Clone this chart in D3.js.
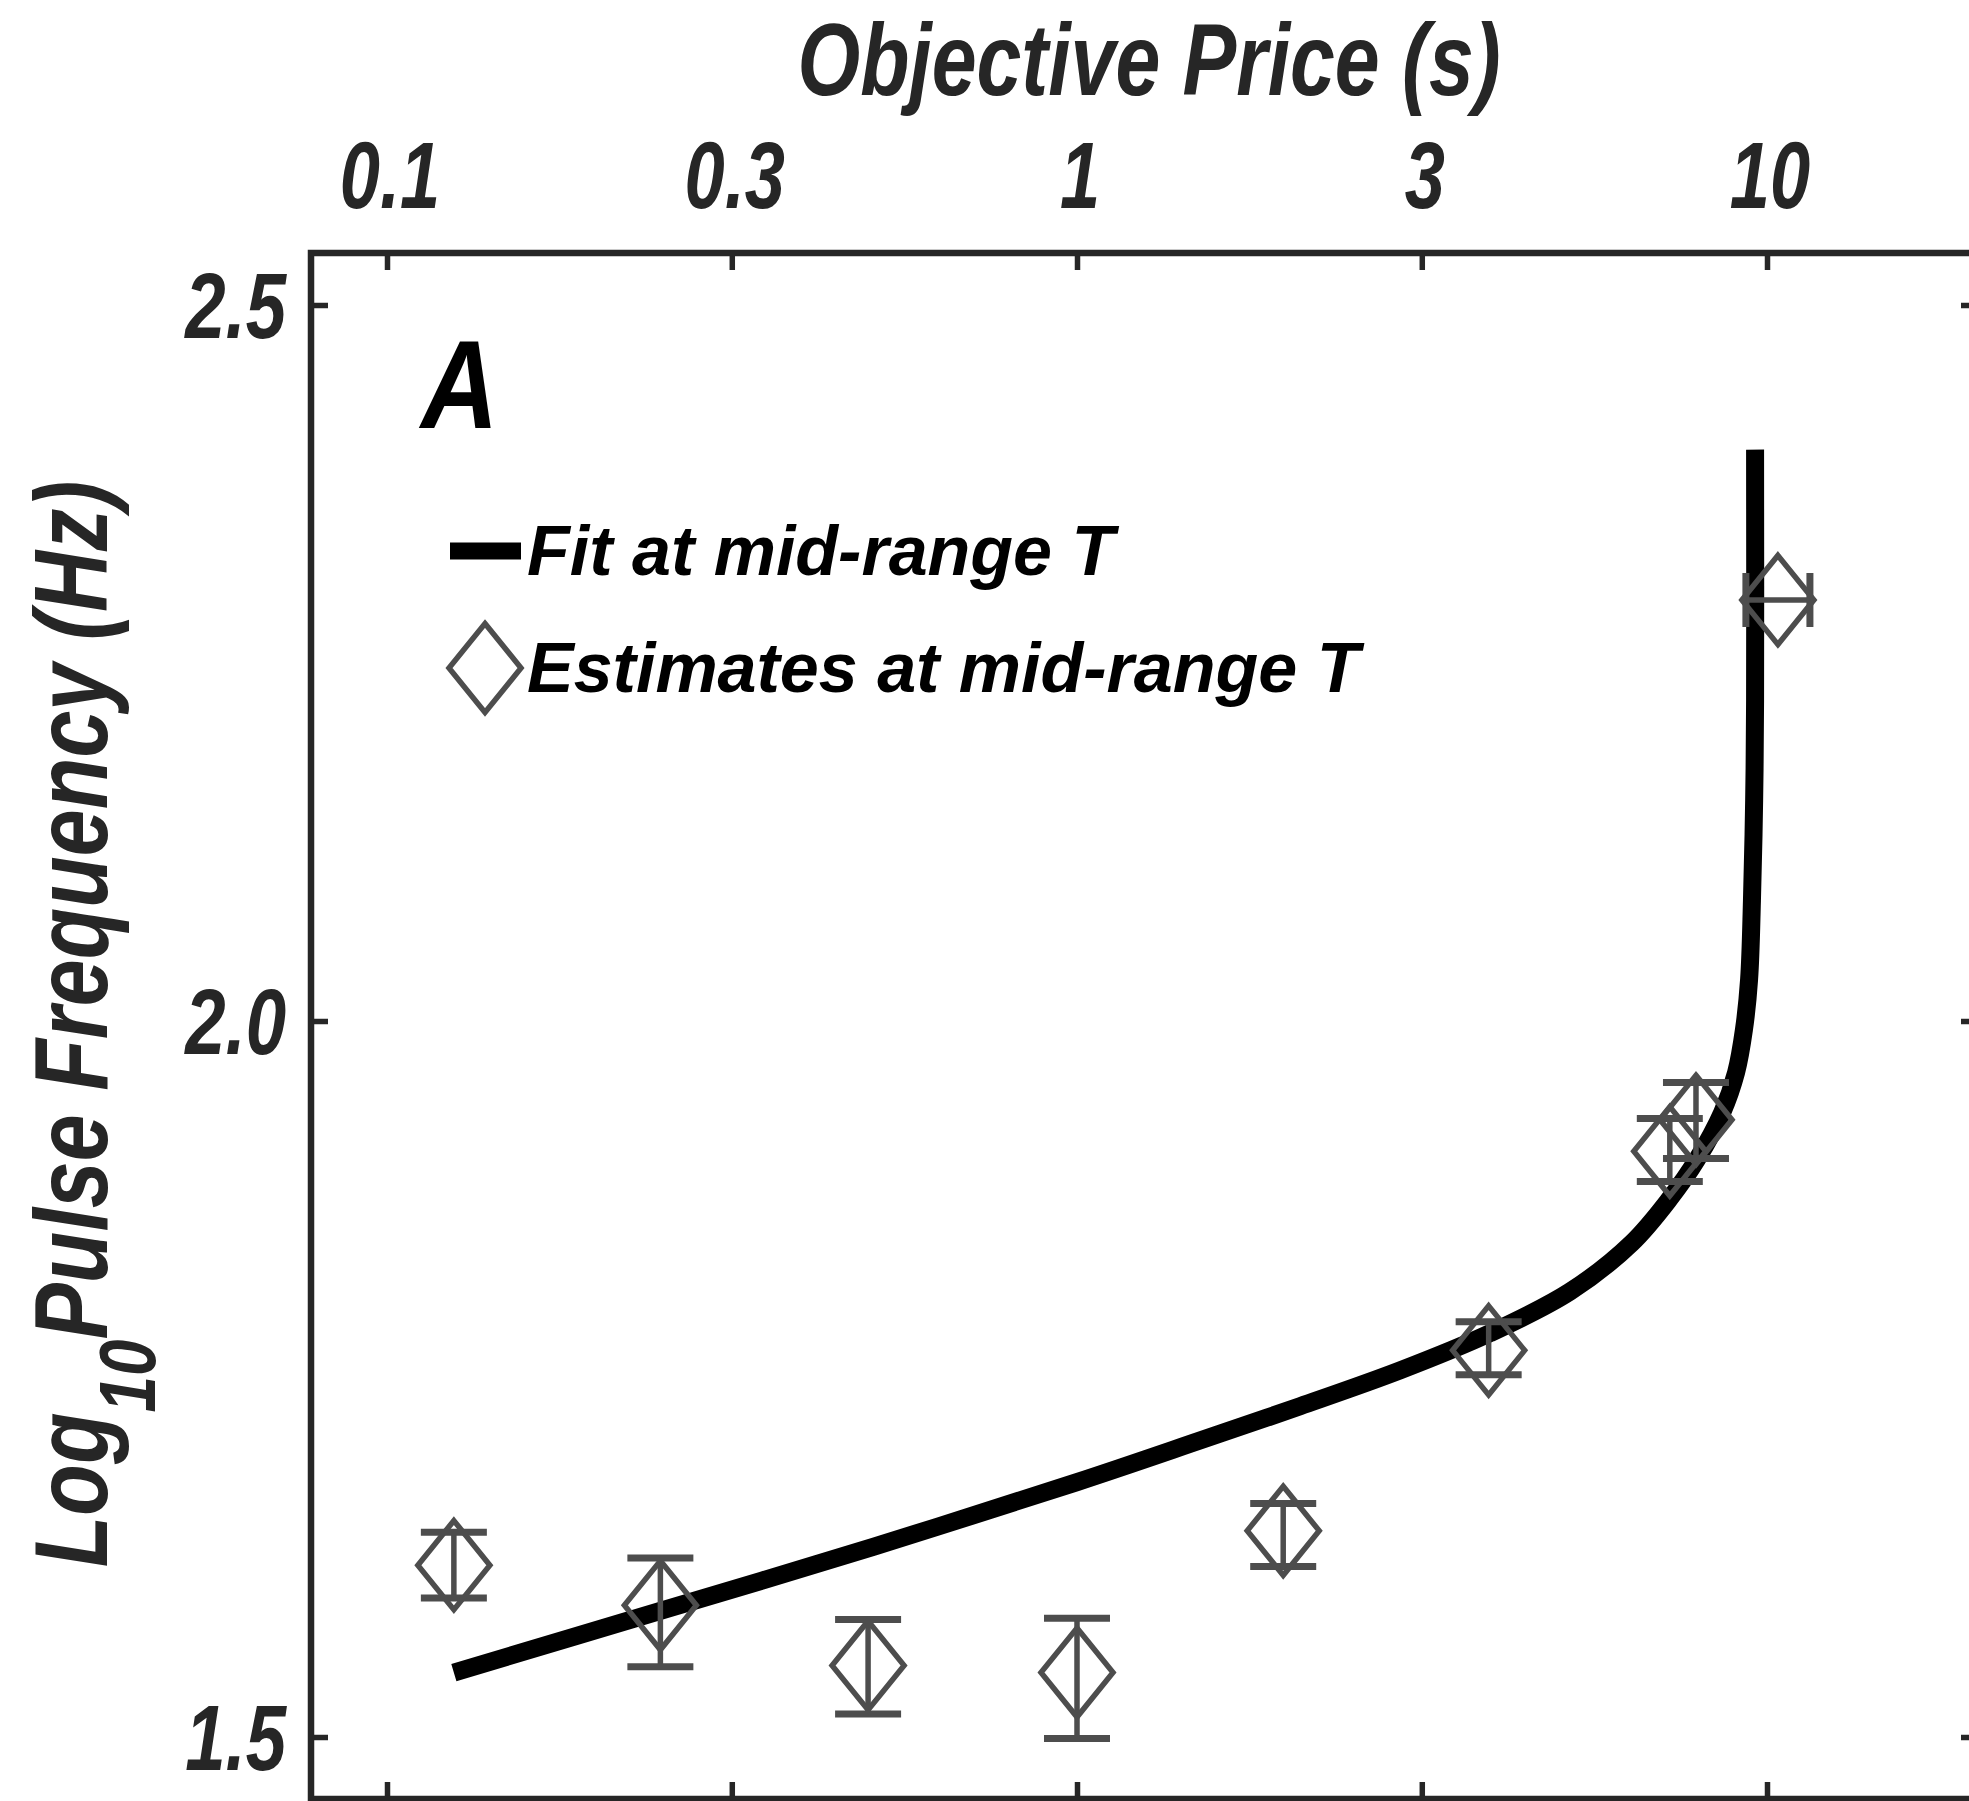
<!DOCTYPE html>
<html>
<head>
<meta charset="utf-8">
<script src="https://cdn.jsdelivr.net/npm/d3@7"></script>
<style>
  html, body { margin: 0; padding: 0; background: #fff; }
  svg { display: block; }
  text { font-family: "Liberation Sans", Arial, sans-serif; font-weight: bold; font-style: italic; }
</style>
</head>
<body>
<svg id="chart" width="1969" height="1801"></svg>
<script>
// ---- data ----
// Objective price axis (s): ticks at whole and half decades
const priceTicks = [0.1, 0.316, 1, 3.16, 10];
const priceTickLabels = ["0.1", "0.3", "1", "3", "10"];
// Log10 pulse frequency axis
const freqTicks = [1.5, 2.0, 2.5];
const freqTickLabels = ["1.5", "2.0", "2.5"];

// Fitted curve at mid-range T
const fitPrice   = [0.125, 0.249, 0.508, 1.0, 1.507, 2.105, 2.939, 3.968, 5.18, 6.37, 7.23, 7.91, 8.61, 9.02, 9.26, 9.42, 9.51, 9.58, 9.61, 9.61];
const fitLogFreq = [1.545, 1.588, 1.633, 1.678, 1.707, 1.731, 1.756, 1.782, 1.811, 1.845, 1.876, 1.903, 1.936, 1.964, 1.994, 2.029, 2.084, 2.154, 2.224, 2.399];

// Estimates at mid-range T, with error bars
const estPrice   = [0.125, 0.249, 0.498, 1.0, 1.99, 3.95, 7.23, 7.89, 10.37];
const estLogFreq = [1.620, 1.592, 1.550, 1.545, 1.644, 1.770, 1.909, 1.931, 2.294];
const estFreqLo  = [1.597, 1.549, 1.516, 1.499, 1.619, 1.753, 1.888, 1.904, null];
const estFreqHi  = [1.643, 1.625, 1.582, 1.583, 1.663, 1.790, 1.932, 1.957, null];
const estPriceLo = [null, null, null, null, null, null, null, null, 9.32];
const estPriceHi = [null, null, null, null, null, null, null, null, 11.54];

// ---- layout ----
const frame = { left: 311, right: 1978, top: 253, bottom: 1799 };
const ink = "#262626";
const markerInk = "#4d4d4d";
const tickLen = 17;

const svg = d3.select("#chart");
svg.append("rect").attr("width", 1969).attr("height", 1801).attr("fill", "#fff");

const x = d3.scaleLog().domain([0.1, 10]).range([387, 1767]);
const y = d3.scaleLinear().domain([1.5, 2.5]).range([1737, 305]);

// condensed bold-italic label helper
function label(g, px, py, txt, size, sx, anchor, fill) {
  return g.append("text")
    .attr("transform", `translate(${px},${py}) scale(${sx},1)`)
    .attr("text-anchor", anchor)
    .attr("font-size", size)
    .attr("fill", fill || ink)
    .text(txt);
}

// ---- axes (ticks on all four sides, pointing inward) ----
function styleAxis(g) {
  g.select(".domain").remove();
  g.selectAll(".tick line").attr("stroke", ink).attr("stroke-width", 5.5);
  g.selectAll(".tick text").remove();
}
svg.append("g").attr("transform", `translate(0,${frame.top})`)
  .call(d3.axisTop(x).tickValues(priceTicks).tickSize(-tickLen)).call(styleAxis);
svg.append("g").attr("transform", `translate(0,${frame.bottom})`)
  .call(d3.axisBottom(x).tickValues(priceTicks).tickSize(-tickLen)).call(styleAxis);
svg.append("g").attr("transform", `translate(${frame.left},0)`)
  .call(d3.axisLeft(y).tickValues(freqTicks).tickSize(-tickLen)).call(styleAxis);
svg.append("g").attr("transform", `translate(${frame.right},0)`)
  .call(d3.axisRight(y).tickValues(freqTicks).tickSize(-tickLen)).call(styleAxis);

// frame
svg.append("rect")
  .attr("x", frame.left).attr("y", frame.top)
  .attr("width", frame.right - frame.left).attr("height", frame.bottom - frame.top)
  .attr("fill", "none").attr("stroke", ink).attr("stroke-width", 6.5);

// tick labels
const labels = svg.append("g");
priceTicks.forEach((t, i) => label(labels, x(t) + 3, 208, priceTickLabels[i], 95, 0.76, "middle"));
freqTicks.forEach((t, i) => label(labels, 286, y(t) + 33, freqTickLabels[i], 93, 0.78, "end"));

// axis titles
label(svg, 1149, 95, "Objective Price (s)", 102, 0.79, "middle");
const yTitle = svg.append("text")
  .attr("transform", "translate(107,1024) rotate(-90) scale(0.82,1)")
  .attr("text-anchor", "middle").attr("font-size", 103).attr("fill", ink);
yTitle.append("tspan").text("Log");
yTitle.append("tspan").attr("dy", 48).attr("font-size", 80).text("10");
yTitle.append("tspan").attr("dy", -48).text("Pulse Frequency (Hz)");

// panel letter
label(svg, 421, 428, "A", 126, 0.85, "start", "#000");

// ---- fitted curve ----
const fitData = fitPrice.map((p, i) => [p, fitLogFreq[i]]);
svg.append("path")
  .datum(fitData)
  .attr("fill", "none").attr("stroke", "#000").attr("stroke-width", 18)
  .attr("stroke-linecap", "butt").attr("stroke-linejoin", "round")
  .attr("d", d3.line().x(d => x(d[0])).y(d => y(d[1])).curve(d3.curveCatmullRom.alpha(0.5)));

// ---- estimates: error bars + open diamonds ----
const dHalfW = 36, dHalfH = 44.5, capHalf = 33, capHalfH = 27;
const diamond = (cx, cy) => `M${cx},${cy - dHalfH}L${cx + dHalfW},${cy}L${cx},${cy + dHalfH}L${cx - dHalfW},${cy}Z`;
const est = estPrice.map((p, i) => ({
  p, f: estLogFreq[i], fLo: estFreqLo[i], fHi: estFreqHi[i], pLo: estPriceLo[i], pHi: estPriceHi[i]
}));
const marks = svg.append("g").attr("stroke", markerInk).attr("fill", "none");
est.forEach(d => {
  const cx = x(d.p), cy = y(d.f);
  if (d.fLo != null) {
    const y0 = y(d.fLo), y1 = y(d.fHi);
    marks.append("line").attr("x1", cx).attr("x2", cx).attr("y1", y0).attr("y2", y1).attr("stroke-width", 5.5);
    [y0, y1].forEach(yy => marks.append("line")
      .attr("x1", cx - capHalf).attr("x2", cx + capHalf).attr("y1", yy).attr("y2", yy).attr("stroke-width", 7));
  }
  if (d.pLo != null) {
    const x0 = x(d.pLo), x1 = x(d.pHi);
    marks.append("line").attr("x1", x0).attr("x2", x1).attr("y1", cy).attr("y2", cy).attr("stroke-width", 5.5);
    [x0, x1].forEach(xx => marks.append("line")
      .attr("x1", xx).attr("x2", xx).attr("y1", cy - capHalfH).attr("y2", cy + capHalfH).attr("stroke-width", 7));
  }
  marks.append("path").attr("d", diamond(cx, cy)).attr("stroke-width", 5.5).attr("stroke-linejoin", "miter");
});

// ---- legend ----
const legend = svg.append("g");
legend.append("line").attr("x1", 450).attr("x2", 521).attr("y1", 551).attr("y2", 551)
  .attr("stroke", "#000").attr("stroke-width", 17);
label(legend, 527, 575, "Fit at mid-range T", 70, 1, "start", "#000");
legend.append("path").attr("d", diamond(485, 668))
  .attr("fill", "none").attr("stroke", markerInk).attr("stroke-width", 5.5);
label(legend, 527, 692, "Estimates at mid-range T", 70, 1, "start", "#000");
</script>
</body>
</html>
